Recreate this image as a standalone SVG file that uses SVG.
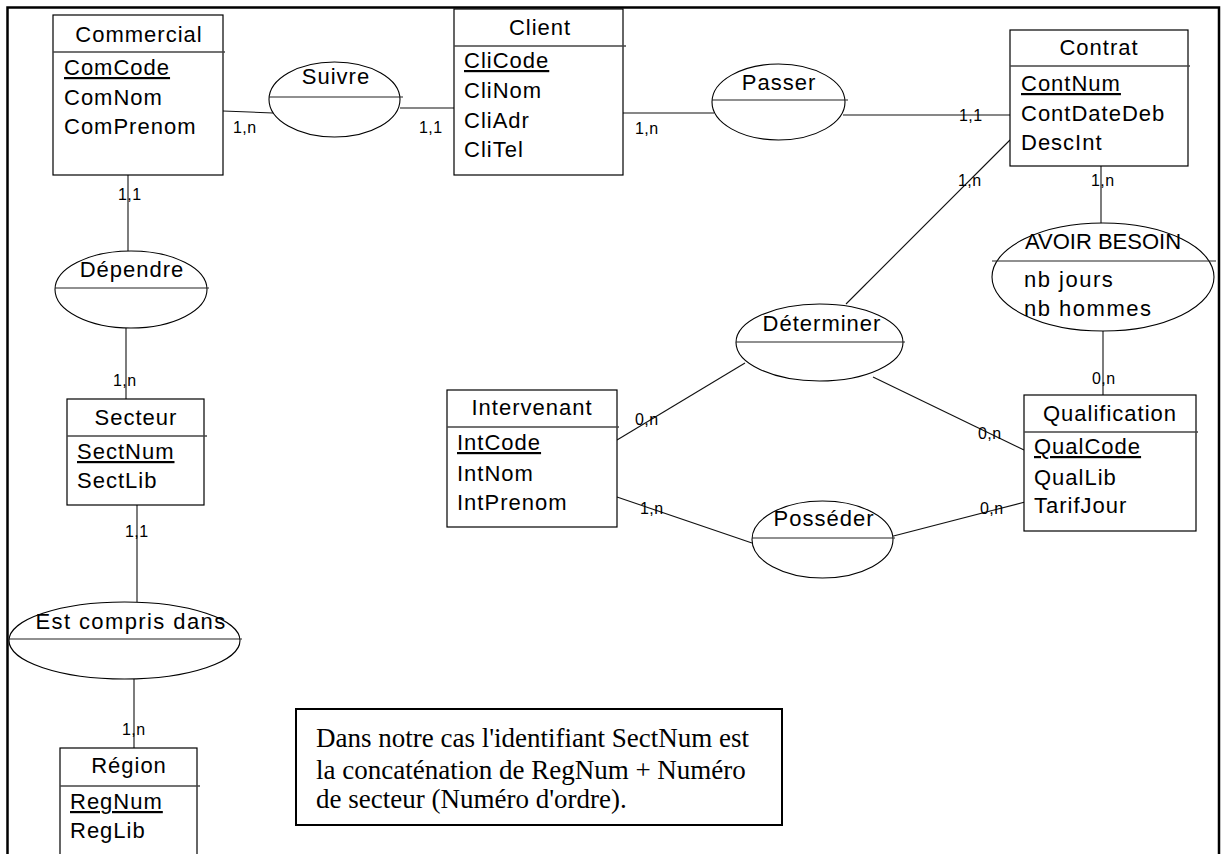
<svg xmlns="http://www.w3.org/2000/svg" width="1223" height="854" viewBox="0 0 1223 854">
  <style>
    .box { fill: #fff; stroke: #000; stroke-width: 1.2; }
    .hdr { stroke: #444; stroke-width: 1.4; }
    .rel { fill: #fff; stroke: #000; stroke-width: 1.1; }
    .mid { stroke: #222; stroke-width: 1.2; }
    .lnk { stroke: #111; stroke-width: 1.1; fill: none; }
    .t { font-family: "Liberation Sans", Arial, sans-serif; font-size: 22px; letter-spacing: 1px; fill: #000; }
    .c { text-anchor: middle; }
    .u { text-decoration: underline; }
    .card { font-family: "Liberation Sans", Arial, sans-serif; font-size: 16px; letter-spacing: 0.4px; fill: #000; }
    .note { font-family: "Liberation Serif", "Times New Roman", serif; font-size: 27px; fill: #000; }
  </style>
  <rect width="1223" height="854" fill="#fff"/>

  <!-- links between entities and associations -->
  <g id="connectors">
    <line class="lnk" x1="223" y1="111" x2="273" y2="113"/>
    <line class="lnk" x1="400" y1="108" x2="454" y2="108"/>
    <line class="lnk" x1="623" y1="113" x2="714" y2="113"/>
    <line class="lnk" x1="843" y1="115" x2="1010" y2="115"/>
    <line class="lnk" x1="1010" y1="140" x2="846" y2="304"/>
    <line class="lnk" x1="1101" y1="166" x2="1101" y2="223"/>
    <line class="lnk" x1="1103" y1="331" x2="1103" y2="395"/>
    <line class="lnk" x1="745" y1="363" x2="617" y2="440"/>
    <line class="lnk" x1="873" y1="377" x2="1024" y2="450"/>
    <line class="lnk" x1="617" y1="497" x2="752" y2="543"/>
    <line class="lnk" x1="878" y1="540" x2="1025" y2="502"/>
    <line class="lnk" x1="128" y1="175" x2="128" y2="251"/>
    <line class="lnk" x1="126" y1="328" x2="126" y2="399"/>
    <line class="lnk" x1="137" y1="505" x2="137" y2="602"/>
    <line class="lnk" x1="134" y1="679" x2="134" y2="748"/>
  </g>

  <!-- entities -->
  <g id="commercial">
    <rect class="box" x="53" y="15" width="170" height="160"/>
    <line class="hdr" x1="53" y1="52" x2="225" y2="52"/>
    <text class="t c" x="139" y="42">Commercial</text>
    <text class="t u" x="64" y="75">ComCode</text>
    <text class="t" x="64" y="105">ComNom</text>
    <text class="t" x="64" y="134">ComPrenom</text>
  </g>

  <g id="client">
    <rect class="box" x="454" y="9" width="169" height="166"/>
    <line class="hdr" x1="454" y1="46" x2="626" y2="46"/>
    <text class="t c" x="540" y="35">Client</text>
    <text class="t u" x="464" y="68">CliCode</text>
    <text class="t" x="464" y="98">CliNom</text>
    <text class="t" x="464" y="128">CliAdr</text>
    <text class="t" x="464" y="157">CliTel</text>
  </g>

  <g id="contrat">
    <rect class="box" x="1010" y="30" width="178" height="136"/>
    <line class="hdr" x1="1010" y1="66" x2="1190" y2="66"/>
    <text class="t c" x="1099" y="55">Contrat</text>
    <text class="t u" x="1021" y="91">ContNum</text>
    <text class="t" x="1021" y="121">ContDateDeb</text>
    <text class="t" x="1021" y="150">DescInt</text>
  </g>

  <g id="qualification">
    <rect class="box" x="1024" y="395" width="172" height="136"/>
    <line class="hdr" x1="1024" y1="432" x2="1198" y2="432"/>
    <text class="t c" x="1110" y="421">Qualification</text>
    <text class="t u" x="1034" y="454">QualCode</text>
    <text class="t" x="1034" y="485">QualLib</text>
    <text class="t" x="1034" y="513">TarifJour</text>
  </g>

  <g id="intervenant">
    <rect class="box" x="447" y="390" width="170" height="137"/>
    <line class="hdr" x1="447" y1="427" x2="619" y2="427"/>
    <text class="t c" x="532" y="415">Intervenant</text>
    <text class="t u" x="457" y="450">IntCode</text>
    <text class="t" x="457" y="481">IntNom</text>
    <text class="t" x="457" y="510">IntPrenom</text>
  </g>

  <g id="secteur">
    <rect class="box" x="67" y="399" width="137" height="106"/>
    <line class="hdr" x1="67" y1="436" x2="207" y2="436"/>
    <text class="t c" x="136" y="425">Secteur</text>
    <text class="t u" x="77" y="459">SectNum</text>
    <text class="t" x="77" y="488">SectLib</text>
  </g>

  <g id="region">
    <rect class="box" x="60" y="748" width="137" height="140"/>
    <line class="hdr" x1="60" y1="786" x2="200" y2="786"/>
    <text class="t c" x="129" y="773">Région</text>
    <text class="t u" x="70" y="809">RegNum</text>
    <text class="t" x="70" y="838">RegLib</text>
  </g>

  <!-- associations -->
  <g id="suivre">
    <ellipse class="rel" cx="334.5" cy="99.5" rx="65.5" ry="37.5"/>
    <line class="mid" x1="269" y1="97" x2="403" y2="97"/>
    <text class="t c" x="336" y="84">Suivre</text>
  </g>

  <g id="passer">
    <ellipse class="rel" cx="778.5" cy="102" rx="66.5" ry="38"/>
    <line class="mid" x1="712" y1="100" x2="848" y2="100"/>
    <text class="t c" x="779" y="90">Passer</text>
  </g>

  <g id="dependre">
    <ellipse class="rel" cx="131" cy="289.5" rx="76" ry="38.5"/>
    <line class="mid" x1="55" y1="288" x2="209" y2="288"/>
    <text class="t c" x="132" y="277">Dépendre</text>
  </g>

  <g id="avoir-besoin">
    <ellipse class="rel" cx="1103" cy="277" rx="111" ry="54"/>
    <line class="mid" x1="992" y1="261" x2="1216" y2="261"/>
    <text class="t c" x="1103" y="249" style="letter-spacing:0">AVOIR BESOIN</text>
    <text class="t" x="1024" y="287" style="letter-spacing:1.5px">nb jours</text>
    <text class="t" x="1024" y="316" style="letter-spacing:1.5px">nb hommes</text>
  </g>

  <g id="determiner">
    <ellipse class="rel" cx="819.5" cy="342.5" rx="83.5" ry="38.5"/>
    <line class="mid" x1="736" y1="342" x2="905" y2="342"/>
    <text class="t c" x="822" y="331">Déterminer</text>
  </g>

  <g id="posseder">
    <ellipse class="rel" cx="822.5" cy="539.5" rx="70.5" ry="38.5"/>
    <line class="mid" x1="752" y1="538" x2="895" y2="538"/>
    <text class="t c" x="824" y="526">Posséder</text>
  </g>

  <g id="est-compris-dans">
    <ellipse class="rel" cx="124.5" cy="640.5" rx="115.5" ry="38.5"/>
    <line class="mid" x1="9" y1="639" x2="242" y2="639"/>
    <text class="t c" x="131" y="629" style="letter-spacing:1.4px">Est compris dans</text>
  </g>

  <!-- cardinalities -->
  <g id="cardinalities">
    <text class="card" x="233" y="133">1,n</text>
    <text class="card" x="419" y="133">1,1</text>
    <text class="card" x="635" y="134">1,n</text>
    <text class="card" x="959" y="121">1,1</text>
    <text class="card" x="958" y="186">1,n</text>
    <text class="card" x="1091" y="186">1,n</text>
    <text class="card" x="1092" y="384">0,n</text>
    <text class="card" x="635" y="425">0,n</text>
    <text class="card" x="978" y="439">0,n</text>
    <text class="card" x="640" y="514">1,n</text>
    <text class="card" x="980" y="514">0,n</text>
    <text class="card" x="118" y="200">1,1</text>
    <text class="card" x="113" y="386">1,n</text>
    <text class="card" x="125" y="537">1,1</text>
    <text class="card" x="122" y="735">1,n</text>
  </g>

  <!-- explanatory note -->
  <g id="note">
    <rect x="296" y="709" width="486" height="116" fill="#fff" stroke="#000" stroke-width="2"/>
    <text class="note" x="316" y="747">Dans notre cas l'identifiant SectNum est</text>
    <text class="note" x="316" y="779">la concaténation de RegNum + Numéro</text>
    <text class="note" x="316" y="808">de secteur (Numéro d'ordre).</text>
  </g>

  <!-- page frame -->
  <path d="M7.5,860 V7.5 H1219 V860" fill="none" stroke="#000" stroke-width="2.5"/>
</svg>
